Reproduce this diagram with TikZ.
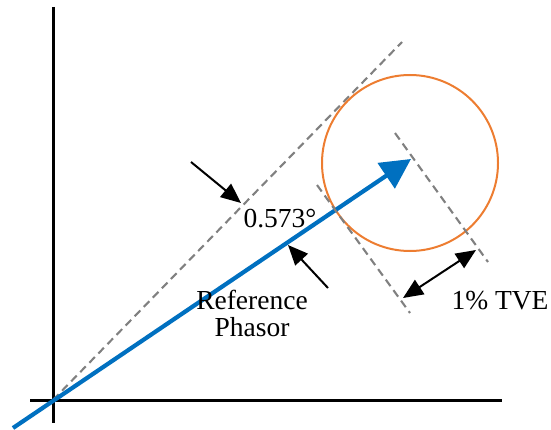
\documentclass[tikz,border=0pt]{standalone}
\usepackage{fontspec}
\setmainfont{Liberation Serif}
\newfontfamily\labelfont{Liberation Serif}
\usetikzlibrary{arrows.meta}
\definecolor{phasorblue}{RGB}{0,112,192}
\definecolor{tveorange}{RGB}{237,125,49}
\begin{document}
\begin{tikzpicture}[x=1pt, y=-1pt,
  axis/.style={line width=3pt, black},
  guide/.style={line width=2.1pt, gray, dash pattern=on 8pt off 5pt},
  pointer/.style={line width=2pt, -{Triangle[length=20pt,width=17pt]}},
  label/.style={font=\labelfont\fontsize{27.5}{27}\selectfont, align=center}]
\useasboundingbox (0,0) rectangle (551,430);
% axes
\coordinate (yTop) at (53,7);
\coordinate (yBot) at (53,423);
\coordinate (xLeft) at (30,400);
\coordinate (xRight) at (502,400);
\draw[axis] (yTop) -- (yBot);
\draw[axis] (xLeft) -- (xRight);
% phasors
\coordinate (origin) at (53,400);
\coordinate (tail) at (13,428);
\coordinate (tip) at (411,159);
\coordinate (refEnd) at (402,42);
\draw[guide] (origin) -- (refEnd);
\draw[tveorange, line width=2pt] (410,163) circle[radius=88];
\draw[line width=4.2pt, phasorblue, -{Triangle[length=30pt,width=30pt]}] (tail) -- (tip);
% TVE limits
\coordinate (outerA) at (395,133);
\coordinate (outerB) at (488,262);
\coordinate (innerA) at (317,185);
\coordinate (innerB) at (410,313);
\draw[guide] (outerA) -- (outerB);
\draw[guide] (innerA) -- (innerB);
\coordinate (tveL) at (403,298);
\coordinate (tveR) at (476,250);
\draw[line width=2pt, {Triangle[length=20pt,width=17pt]}-{Triangle[length=20pt,width=17pt]}] (tveL) -- (tveR);
% angle pointers
\coordinate (upStart) at (191,162);
\coordinate (upEnd) at (241,203);
\coordinate (loStart) at (328,288);
\coordinate (loEnd) at (288,245);
\draw[pointer] (upStart) -- (upEnd);
\draw[pointer] (loStart) -- (loEnd);
% labels
\node[label, anchor=base] (angle) at (280,228) {0.573°};
\node[label, anchor=base] (tve) at (500,309) {1\% TVE};
\node[label, anchor=base] (ref) at (252,336) {Reference\\Phasor};
\end{tikzpicture}
\end{document}
